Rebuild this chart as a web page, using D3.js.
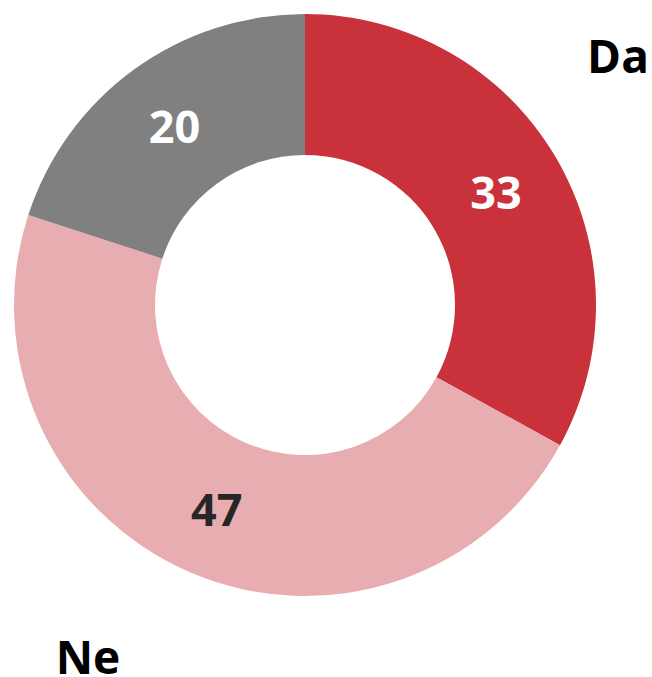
<!DOCTYPE html>
<html><head><meta charset="utf-8">
<script src="https://cdn.jsdelivr.net/npm/d3@7"></script>
<style>body{margin:0;background:#fff}svg{display:block}</style>
</head><body>
<svg id="c" width="652" height="677"></svg>
<script>
const categories = ["Da", "Ne", "Ne zna"];
const values = [33, 47, 20];
const colors = ["#C9323B", "#E8ADB0", "#808080"];
const labelColors = ["#ffffff", "#262626", "#ffffff"];
const legendLabels = ["Da", "Ne"];

const svg = d3.select("#c");
const cx = 305, cy = 305, rOuter = 291, rInner = 150;
const g = svg.append("g").attr("transform", `translate(${cx},${cy})`);
const pie = d3.pie().sort(null).value(d => d)(values);
const arc = d3.arc().innerRadius(rInner).outerRadius(rOuter);
g.selectAll("path").data(pie).join("path")
  .attr("d", arc).attr("fill", (d, i) => colors[i]);
const labelArc = d3.arc().innerRadius(222).outerRadius(222);
g.selectAll("text.v").data(pie).join("text")
  .attr("class", "v")
  .attr("transform", d => `translate(${labelArc.centroid(d)})`)
  .attr("text-anchor", "middle").attr("dominant-baseline", "central")
  .attr("font-family", "Open Sans, Noto Sans, sans-serif")
  .attr("font-weight", "bold").attr("font-size", 45)
  .attr("fill", (d, i) => labelColors[i])
  .text(d => d.data);
svg.append("text").attr("x", 618).attr("y", 55)
  .attr("text-anchor", "middle").attr("dominant-baseline", "central")
  .attr("font-family", "Open Sans, Noto Sans, sans-serif")
  .attr("font-weight", "bold").attr("font-size", 46).attr("fill", "#000")
  .text(legendLabels[0]);
svg.append("text").attr("x", 88).attr("y", 656)
  .attr("text-anchor", "middle").attr("dominant-baseline", "central")
  .attr("font-family", "Open Sans, Noto Sans, sans-serif")
  .attr("font-weight", "bold").attr("font-size", 46).attr("fill", "#000")
  .text(legendLabels[1]);
</script>
</body></html>
